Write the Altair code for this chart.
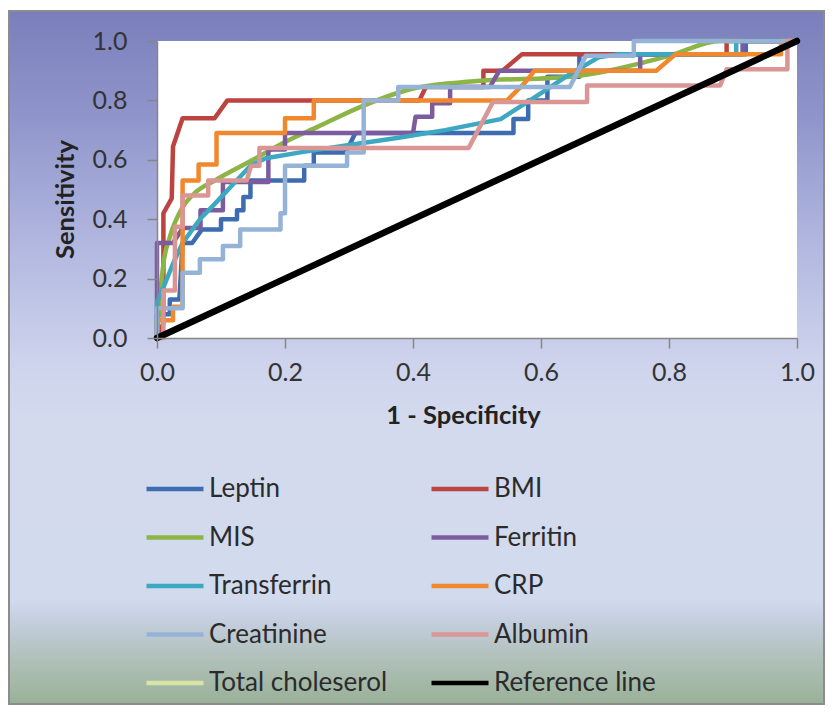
import altair as alt
import pandas as pd

series_names = ["Leptin", "BMI", "MIS", "Ferritin", "Transferrin", "CRP",
                "Creatinine", "Albumin", "Total choleserol", "Reference line"]
series_colors = ["#3E6CB0", "#BC4340", "#8DB545", "#7C5C9F", "#3DA8C2", "#F0892E",
                 "#95B3D7", "#DA9694", "#D7E4A6", "#000000"]

leptin_x = [0, 0, 0.02, 0.02, 0.035, 0.04, 0.055, 0.07, 0.10, 0.10, 0.125, 0.125, 0.135, 0.135,
            0.146, 0.146, 0.23, 0.23, 0.245, 0.245, 0.295, 0.31, 0.557, 0.557, 0.58, 0.58,
            0.61, 0.61, 0.66, 0.66, 0.92, 0.92, 1.0]
leptin_y = [0, 0.08, 0.08, 0.13, 0.13, 0.32, 0.32, 0.365, 0.365, 0.40, 0.40, 0.43, 0.43, 0.475,
            0.475, 0.53, 0.53, 0.58, 0.58, 0.625, 0.625, 0.69, 0.69, 0.737, 0.737, 0.80,
            0.80, 0.88, 0.88, 0.955, 0.955, 1.0, 1.0]

bmi_x = [0, 0.01, 0.01, 0.023, 0.025, 0.04, 0.09, 0.11, 0.41, 0.42, 0.51, 0.51, 0.54, 0.57, 0.89, 0.89, 1.0]
bmi_y = [0, 0.05, 0.42, 0.47, 0.645, 0.74, 0.74, 0.80, 0.80, 0.845, 0.845, 0.90, 0.90, 0.955, 0.955, 1.0, 1.0]

mis_x = [0, 0.004, 0.01, 0.02, 0.04, 0.06, 0.09, 0.15, 0.2, 0.25, 0.32, 0.4, 0.5, 0.646, 0.8, 0.88, 1.0]
mis_y = [0, 0.12, 0.25, 0.34, 0.44, 0.49, 0.53, 0.60, 0.66, 0.71, 0.78, 0.84, 0.865, 0.88, 0.95, 1.0, 1.0]

ferritin_x = [0, 0, 0.025, 0.04, 0.068, 0.068, 0.103, 0.103, 0.174, 0.174, 0.2, 0.2, 0.40, 0.404,
              0.43, 0.43, 0.458, 0.458, 0.52, 0.535, 0.755, 0.755, 0.915, 0.915, 1.0]
ferritin_y = [0, 0.32, 0.32, 0.37, 0.37, 0.43, 0.43, 0.525, 0.525, 0.635, 0.635, 0.69, 0.69, 0.745,
              0.745, 0.79, 0.79, 0.845, 0.845, 0.90, 0.90, 0.955, 0.955, 1.0, 1.0]

transferrin_x = [0, 0, 0.01, 0.025, 0.04, 0.067, 0.094, 0.12, 0.146, 0.17, 0.224, 0.30, 0.38, 0.45,
                 0.537, 0.59, 0.65, 0.69, 0.72, 0.905, 0.905, 1.0]
transferrin_y = [0, 0.12, 0.17, 0.25, 0.32, 0.40, 0.46, 0.52, 0.58, 0.605, 0.625, 0.65, 0.675, 0.70,
                 0.737, 0.81, 0.895, 0.945, 0.955, 0.955, 1.0, 1.0]

crp_x = [0, 0, 0.025, 0.025, 0.04, 0.04, 0.065, 0.065, 0.093, 0.093, 0.20, 0.20, 0.245, 0.245,
         0.547, 0.575, 0.59, 0.78, 0.81, 0.975, 0.975, 1.0]
crp_y = [0, 0.06, 0.06, 0.105, 0.105, 0.53, 0.53, 0.584, 0.584, 0.69, 0.69, 0.74, 0.74, 0.80,
         0.80, 0.86, 0.90, 0.90, 0.955, 0.955, 1.0, 1.0]

creatinine_x = [0, 0, 0.04, 0.04, 0.067, 0.067, 0.103, 0.103, 0.13, 0.13, 0.193, 0.193, 0.2, 0.2,
                0.297, 0.297, 0.323, 0.323, 0.377, 0.377, 0.645, 0.67, 0.745, 0.745, 1.0]
creatinine_y = [0, 0.10, 0.10, 0.22, 0.22, 0.265, 0.265, 0.31, 0.31, 0.365, 0.365, 0.42, 0.42, 0.58,
                0.58, 0.625, 0.625, 0.80, 0.80, 0.845, 0.845, 0.95, 0.95, 1.0, 1.0]

albumin_x = [0, 0.01, 0.01, 0.028, 0.028, 0.04, 0.04, 0.08, 0.08, 0.14, 0.147, 0.16, 0.16, 0.487,
             0.525, 0.672, 0.672, 0.88, 0.89, 0.985, 0.985, 1.0]
albumin_y = [0, 0, 0.16, 0.16, 0.375, 0.375, 0.48, 0.48, 0.53, 0.53, 0.58, 0.58, 0.64, 0.64,
             0.795, 0.795, 0.85, 0.85, 0.905, 0.905, 1.0, 1.0]

reference_x = [0, 1.0]
reference_y = [0, 1.0]

series_data = {
    "Leptin": (leptin_x, leptin_y),
    "BMI": (bmi_x, bmi_y),
    "MIS": (mis_x, mis_y),
    "Ferritin": (ferritin_x, ferritin_y),
    "Transferrin": (transferrin_x, transferrin_y),
    "CRP": (crp_x, crp_y),
    "Creatinine": (creatinine_x, creatinine_y),
    "Albumin": (albumin_x, albumin_y),
    "Reference line": (reference_x, reference_y),
}

# legend fills column by column: left column first, then right column
legend_order = series_names[0::2] + series_names[1::2]
legend_colors = [series_colors[series_names.index(n)] for n in legend_order]

tick_values = [0.0, 0.2, 0.4, 0.6, 0.8, 1.0]
FONT = "Lato"

xscale = alt.Scale(domain=[0, 1], nice=False, zero=False)
yscale = alt.Scale(domain=[0, 1], nice=False, zero=False)
xaxis = alt.Axis(title="1 - Specificity", values=tick_values, format=".1f", tickSize=10,
                 labelPadding=12, labelFlush=False, titleX=306, titleY=85,
                 titleBaseline="alphabetic", titleAlign="center", zindex=1)
yaxis = alt.Axis(title="Sensitivity", values=tick_values, format=".1f", tickSize=10,
                 labelPadding=20, labelFlush=False, titleX=-92, titleY=158, titleAngle=270,
                 titleAlign="center", titleBaseline="middle", zindex=1)

color = alt.Color("series:N",
                  scale=alt.Scale(domain=legend_order, range=legend_colors),
                  legend=alt.Legend(title=None, orient="none", legendX=-13, legendY=417,
                                    columns=2, symbolType="stroke", symbolSize=3249,
                                    symbolStrokeWidth=4.5, labelFontSize=26, labelFont=FONT,
                                    labelColor="#2b2b2b", labelOffset=3, labelLimit=400,
                                    rowPadding=4.5, columnPadding=34, padding=0, zindex=1))

gradient = alt.LinearGradient(
    gradient="linear", x1=0, x2=0, y1=0, y2=1,
    stops=[
        alt.GradientStop(color="#7A7FBC", offset=0),
        alt.GradientStop(color="#9096CB", offset=0.158),
        alt.GradientStop(color="#B3B9E0", offset=0.345),
        alt.GradientStop(color="#CDD3EC", offset=0.504),
        alt.GradientStop(color="#D3DAEE", offset=0.59),
        alt.GradientStop(color="#D2DAEE", offset=0.849),
        alt.GradientStop(color="#C5CFE0", offset=0.878),
        alt.GradientStop(color="#B0C0BA", offset=0.935),
        alt.GradientStop(color="#9AB198", offset=1.0),
    ],
)

bg = alt.Chart(pd.DataFrame({"a": [0]})).mark_rect(
    fill=gradient, stroke="#8c8c8c", strokeWidth=2
).encode(x=alt.value(-148), x2=alt.value(667), y=alt.value(-30), y2=alt.value(663))

plot_bg = alt.Chart(pd.DataFrame({"x0": [0.0], "x1": [1.0], "y0": [0.0], "y1": [1.0]})).mark_rect(
    fill="white"
).encode(
    x=alt.X("x0:Q", scale=xscale, axis=xaxis), x2="x1:Q",
    y=alt.Y("y0:Q", scale=yscale, axis=yaxis), y2="y1:Q",
)

layers = [bg, plot_bg]
for name in series_names:
    if name not in series_data:
        continue
    xs, ys = series_data[name]
    df = pd.DataFrame({"x": xs, "y": ys, "i": list(range(len(xs))), "series": name})
    width = 6.5 if name == "Reference line" else 4.5
    interp = "monotone" if name == "MIS" else "linear"
    layers.append(
        alt.Chart(df).mark_line(strokeWidth=width, strokeJoin="round", strokeCap="round",
                                interpolate=interp).encode(
            x=alt.X("x:Q", scale=xscale, axis=xaxis),
            y=alt.Y("y:Q", scale=yscale, axis=yaxis),
            color=color,
            order="i:Q",
        )
    )

chart = alt.layer(*layers).properties(
    width=640, height=297, padding={"top": 2, "left": 0, "right": 0, "bottom": 0}
).configure_view(strokeWidth=0).configure_axis(
    grid=False, domainColor="#868686", tickColor="#868686", domainWidth=1.5, tickWidth=1.5,
    labelFont=FONT, labelFontSize=25, labelColor="#333333",
    titleFont=FONT, titleFontSize=25.5, titleFontWeight="bold", titleColor="#222222",
)

chart.save("out.html", embed_options={"renderer": "svg", "actions": False})
